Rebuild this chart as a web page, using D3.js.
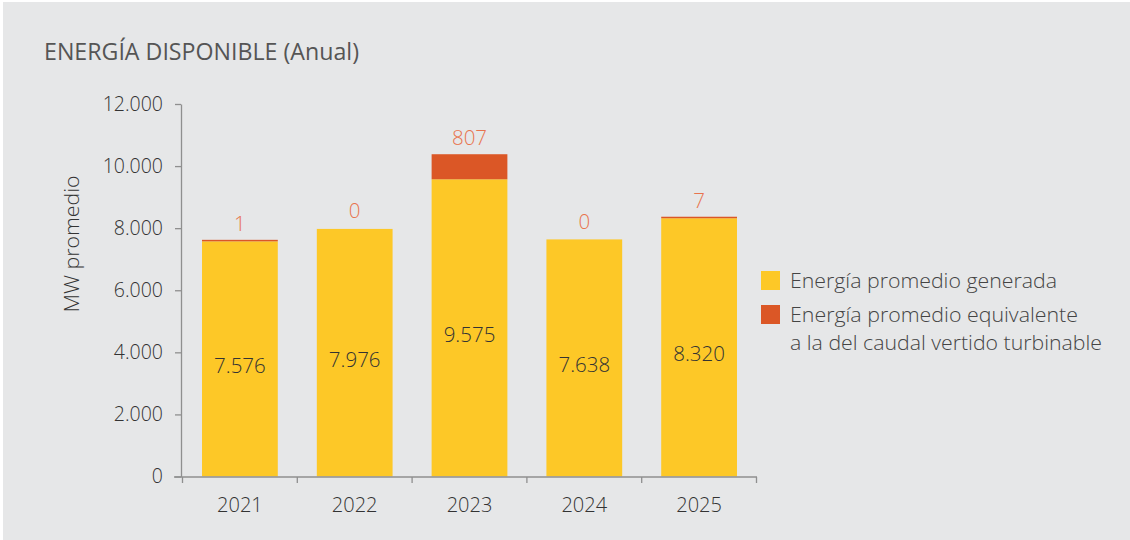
<!DOCTYPE html>
<html><head><meta charset="utf-8">
<script src="https://cdn.jsdelivr.net/npm/d3@7"></script>
<style>
html,body{margin:0;padding:0;background:#fff;}
svg{display:block;}
text{font-family:"Open Sans",sans-serif;font-weight:300;}
</style></head>
<body>
<svg id="chart" width="1130" height="540"></svg>
<script>
const years = ["2021","2022","2023","2024","2025"];
const generada = [7576, 7976, 9575, 7638, 8320];
const vertido = [1, 0, 807, 0, 7];
const yTicks = [0, 2000, 4000, 6000, 8000, 10000, 12000];
const seriesNames = ["Energía promedio generada", ["Energía promedio equivalente", "a la del caudal vertido turbinable"]];
const colors = ["#FDC827", "#DB5726"];

const svg = d3.select("#chart");
svg.append("rect").attr("x",3).attr("y",2).attr("width",1127).attr("height",538).attr("fill","#E6E7E8");

const fmt = v => d3.format(",")(v).replace(/,/g, ".");

const x = d3.scaleBand().domain(years).range([182.5, 756.5]).paddingInner(0.34).paddingOuter(0.17);
const y = d3.scaleLinear().domain([0, 12000]).range([476.5, 104]);

// title
svg.append("text").attr("x",44).attr("y",60).attr("font-size",23).attr("fill","#555")
  .style("font-weight",400)
  .attr("textLength",315).attr("lengthAdjust","spacingAndGlyphs")
  .text("ENERGÍA DISPONIBLE (Anual)");

// y axis
const yAxis = svg.append("g").attr("transform","translate(181,0)")
  .call(d3.axisLeft(y).tickValues(yTicks).tickFormat(fmt).tickSize(6).tickSizeOuter(0).tickPadding(12));
yAxis.selectAll("path,line").attr("stroke","#8f8f8f").attr("stroke-width",1.3);
yAxis.selectAll("text").attr("font-size",19.5).attr("fill","#333").attr("font-family","'Open Sans',sans-serif");

svg.append("text").attr("transform","translate(79,244) rotate(-90)").attr("text-anchor","middle")
  .attr("font-size",20).attr("fill","#333")
  .attr("textLength",137).attr("lengthAdjust","spacingAndGlyphs").text("MW promedio");

// bars
const stack = years.map((yr,i)=>({yr, g:generada[i], v:vertido[i]}));
const bars = svg.append("g");
bars.selectAll("rect.g").data(stack).join("rect")
  .attr("x",d=>x(d.yr)).attr("width",x.bandwidth())
  .attr("y",d=>y(d.g)).attr("height",d=>y(0)-y(d.g)).attr("fill",colors[0]);
bars.selectAll("rect.v").data(stack.filter(d=>d.v>0)).join("rect")
  .attr("x",d=>x(d.yr)).attr("width",x.bandwidth())
  .attr("y",d=>Math.min(y(d.g+d.v), y(d.g)-1.5)).attr("height",d=>Math.max(y(d.g)-y(d.g+d.v),1.5)).attr("fill",colors[1]);

// inner labels
svg.append("g").selectAll("text").data(stack).join("text")
  .attr("x",d=>x(d.yr)+x.bandwidth()/2).attr("y",d=>(y(d.g)+y(0))/2+14)
  .attr("text-anchor","middle").attr("font-size",20.5).attr("fill","#333")
  .text(d=>fmt(d.g));
// top labels
svg.append("g").selectAll("text").data(stack).join("text")
  .attr("x",d=>x(d.yr)+x.bandwidth()/2).attr("y",d=>Math.min(y(d.g+d.v), y(d.g)-1.5)-9)
  .attr("text-anchor","middle").attr("font-size",20.5).attr("fill","#E8744E")
  .text(d=>fmt(d.v));

// x axis
const xg = svg.append("g");
xg.append("line").attr("x1",174).attr("x2",757).attr("y1",477).attr("y2",477).attr("stroke","#8f8f8f").attr("stroke-width",1.3);
const bounds = years.map(d=>x(d)-x.step()*x.paddingInner()/2).concat([x(years[years.length-1])+x.bandwidth()+x.step()*x.paddingInner()/2]);
xg.selectAll("line.t").data(bounds).join("line").attr("class","t")
  .attr("x1",d=>d).attr("x2",d=>d).attr("y1",477).attr("y2",483).attr("stroke","#8f8f8f").attr("stroke-width",1.3);
xg.selectAll("text").data(years).join("text")
  .attr("x",d=>x(d)+x.bandwidth()/2).attr("y",512).attr("text-anchor","middle")
  .attr("font-size",20).attr("fill","#333").text(d=>d);

// legend
const lg = svg.append("g");
lg.append("rect").attr("x",761).attr("y",271).attr("width",19).attr("height",19).attr("fill",colors[0]);
lg.append("rect").attr("x",761).attr("y",305).attr("width",19).attr("height",19).attr("fill",colors[1]);
lg.append("text").attr("x",790).attr("y",288).attr("font-size",19.5).attr("fill","#444")
  .attr("textLength",267).attr("lengthAdjust","spacingAndGlyphs").text(seriesNames[0]);
lg.append("text").attr("x",790).attr("y",322).attr("font-size",19.5).attr("fill","#444")
  .attr("textLength",288).attr("lengthAdjust","spacingAndGlyphs").text(seriesNames[1][0]);
lg.append("text").attr("x",790).attr("y",350).attr("font-size",19.5).attr("fill","#444")
  .attr("textLength",312).attr("lengthAdjust","spacingAndGlyphs").text(seriesNames[1][1]);
</script>
</body></html>
